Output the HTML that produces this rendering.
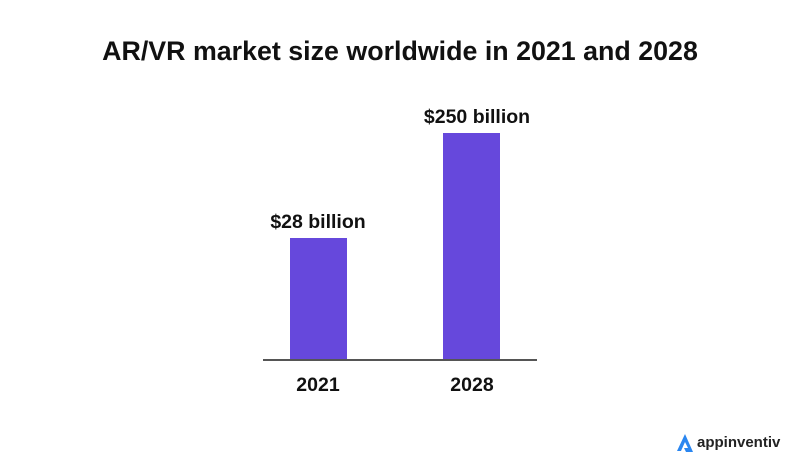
<!DOCTYPE html>
<html><head><style>
body{margin:0;width:800px;height:476px;background:#fff;position:relative;overflow:hidden;font-family:"Liberation Sans",sans-serif;color:#111;}
.a{position:absolute;}
.t{left:0;width:800px;text-align:center;top:36px;font-size:26.8px;font-weight:bold;}
.l{font-size:19.5px;font-weight:bold;text-align:center;width:160px;}
.bar{background:#6648dc;}
</style></head><body>
<div class="a t">AR/VR market size worldwide in 2021 and 2028</div>
<div class="a bar" style="left:290px;top:238px;width:57px;height:122px"></div>
<div class="a bar" style="left:443px;top:133px;width:57px;height:227px"></div>
<div class="a" style="left:263px;top:359px;width:274px;height:2px;background:#555"></div>
<div class="a l" style="left:238px;top:211px">$28 billion</div>
<div class="a l" style="left:397px;top:106px">$250 billion</div>
<div class="a l" style="left:238px;top:374px">2021</div>
<div class="a l" style="left:392px;top:374px">2028</div>
<svg class="a" style="left:675px;top:432px" width="20" height="22" viewBox="0 0 20 22"><path d="M10 2 L2 19 L6 19 L10 10 L13 16 L9 16 L11 20 L18 20 Z" fill="#2a86f0"/></svg>
<div class="a" style="left:697px;top:434px;font-size:15px;font-weight:bold;color:#222">appinventiv</div>
</body></html>
